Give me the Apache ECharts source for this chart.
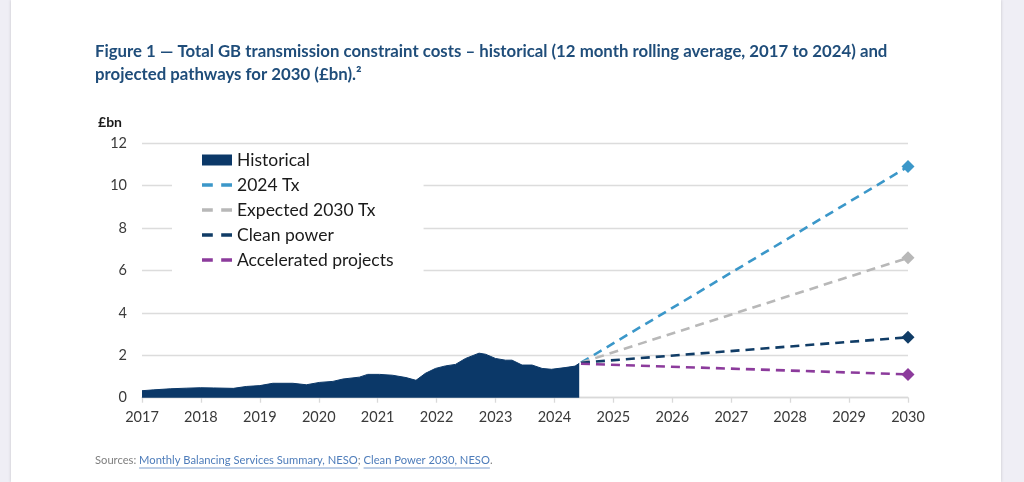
<!DOCTYPE html>
<html>
<head>
<meta charset="utf-8">
<script src="https://cdn.jsdelivr.net/npm/echarts@6/dist/echarts.min.js"></script>
<style>
  html, body { margin: 0; padding: 0; width: 1024px; height: 482px; background: #efeef5; overflow: hidden; }
  #sheet { position: absolute; left: 11px; top: 0; width: 990px; height: 482px; background: #fff;
           box-shadow: 0 0 3px rgba(0,0,0,0.18); }
  #chart { position: absolute; left: 0; top: 0; width: 1024px; height: 482px; }
</style>
</head>
<body>
<div id="sheet"></div>
<div id="chart"></div>
<script>
// ---- Data ----
const titleLines = [
  "Figure 1 \u2014 Total GB transmission constraint costs \u2013 historical (12 month rolling average, 2017 to 2024) and",
  "projected pathways for 2030 (\u00a3bn).\u00b2"
];
const yUnit = "\u00a3bn";
const xTicks = [2017, 2018, 2019, 2020, 2021, 2022, 2023, 2024, 2025, 2026, 2027, 2028, 2029, 2030];

const histYears = [2017.0, 2017.2, 2017.48, 2017.76, 2017.99, 2018.21, 2018.55, 2018.77, 2019.0, 2019.22,
  2019.56, 2019.79, 2020.01, 2020.24, 2020.41, 2020.69, 2020.83, 2021.03, 2021.25, 2021.48,
  2021.65, 2021.81, 2021.98, 2022.15, 2022.32, 2022.49, 2022.72, 2022.83, 2023.0, 2023.17,
  2023.28, 2023.45, 2023.62, 2023.79, 2023.95, 2024.18, 2024.35, 2024.42];
const histValues = [0.33, 0.37, 0.42, 0.45, 0.47, 0.46, 0.44, 0.53, 0.57, 0.68,
  0.68, 0.61, 0.72, 0.77, 0.88, 0.97, 1.1, 1.1, 1.06, 0.95,
  0.82, 1.15, 1.38, 1.5, 1.57, 1.85, 2.1, 2.05, 1.85, 1.77,
  1.77, 1.54, 1.54, 1.38, 1.34, 1.42, 1.49, 1.62];

const projYears = [2024.45, 2030];
const tx2024 = [1.65, 10.9];
const expected2030 = [1.65, 6.6];
const cleanPower = [1.65, 2.85];
const accelerated = [1.6, 1.1];

const seriesNames = ["Historical", "2024 Tx", "Expected 2030 Tx", "Clean power", "Accelerated projects"];
const seriesColors = ["#0b3868", "#3b97c9", "#b8b8b8", "#103c66", "#8c3b9c"];

const sourcesLabel = "Sources: ";
const sourceLinks = ["Monthly Balancing Services Summary, NESO", "Clean Power 2030, NESO"];

// ---- Build ----
const pair = (xs, ys) => xs.map((x, i) => [x, ys[i]]);
const FONT = "Lato, 'Open Sans', sans-serif";

function projSeries(name, color, values) {
  const n = values.length;
  return {
    name: name, type: 'line', data: pair(projYears, values),
    lineStyle: { color: color, width: 2.6, type: [9, 6] },
    itemStyle: { color: color },
    symbol: (v, p) => p.dataIndex === n - 1 ? 'diamond' : 'none',
    symbolSize: 13, showSymbol: true, z: 3, silent: true, animation: false
  };
}

const dashIcon = 'path://M0,0h9v3h-9z M16,0h9v3h-9z';

// measure sources text for underlines
const mctx = document.createElement('canvas').getContext('2d');
const srcFont = "11.2px " + FONT;
mctx.font = srcFont;
const srcX = 95, srcY = 462;
let cx = srcX + mctx.measureText(sourcesLabel).width;
const underlines = [];
const sepText = "; ";
sourceLinks.forEach((t, i) => {
  const w = mctx.measureText(t).width;
  underlines.push({ type: 'line', shape: { x1: cx, y1: srcY + 6, x2: cx + w, y2: srcY + 6 },
    style: { stroke: '#5b86c0', lineWidth: 0.8 }, silent: true });
  cx += w + mctx.measureText(i === 0 ? sepText : ".").width;
});

const chart = echarts.init(document.getElementById('chart'), null, { renderer: 'canvas' });
chart.setOption({
  backgroundColor: 'transparent',
  animation: false,
  textStyle: { fontFamily: FONT },
  title: {
    text: titleLines.join("\n"),
    left: 95, top: 40.5, padding: 0,
    textStyle: { fontFamily: FONT, fontSize: 16.8, fontWeight: 'bold', color: '#1f4d7a', lineHeight: 23 }
  },
  grid: { left: 142, right: 116, top: 143.3, bottom: 84.3, containLabel: false },
  legend: {
    orient: 'vertical', left: 172, top: 148,
    padding: [3, 30, 7, 30],
    backgroundColor: '#ffffff',
    itemWidth: 30, itemHeight: 11, itemGap: 7,
    textStyle: { fontFamily: FONT, fontSize: 17.5, color: '#1a1a1a', lineHeight: 18 },
    data: [
      { name: seriesNames[0], icon: 'rect', itemStyle: { color: seriesColors[0] } },
      { name: seriesNames[1], icon: dashIcon, itemStyle: { color: seriesColors[1] } },
      { name: seriesNames[2], icon: dashIcon, itemStyle: { color: seriesColors[2] } },
      { name: seriesNames[3], icon: dashIcon, itemStyle: { color: seriesColors[3] } },
      { name: seriesNames[4], icon: dashIcon, itemStyle: { color: seriesColors[4] } }
    ],
    selectedMode: false
  },
  xAxis: {
    type: 'value', min: 2017, max: 2030, interval: 1,
    axisLine: { show: true, lineStyle: { color: '#d9d9d9', width: 1.3 } },
    axisTick: { show: true, length: 5, lineStyle: { color: '#d9d9d9', width: 1.3 } },
    splitLine: { show: false },
    axisLabel: { formatter: v => String(v), color: '#3a3a3a', fontSize: 14.5, margin: 12, fontFamily: FONT }
  },
  yAxis: {
    type: 'value', min: 0, max: 12, interval: 2,
    name: yUnit, nameLocation: 'end', nameGap: 21,
    nameTextStyle: { align: 'right', verticalAlign: 'middle', padding: [0, 20, 0, 0], fontWeight: 'bold',
      fontSize: 14, color: '#1a1a1a', fontFamily: FONT },
    axisLine: { show: false }, axisTick: { show: false },
    splitLine: { show: true, lineStyle: { color: '#dcdcdc', width: 1.3 } },
    axisLabel: { color: '#3a3a3a', fontSize: 14.5, margin: 15, fontFamily: FONT }
  },
  series: [
    {
      name: seriesNames[0], type: 'line', data: pair(histYears, histValues),
      symbol: 'none', lineStyle: { color: seriesColors[0], width: 1 },
      itemStyle: { color: seriesColors[0] },
      areaStyle: { color: seriesColors[0], opacity: 1 }, z: 2, silent: true
    },
    projSeries(seriesNames[1], seriesColors[1], tx2024),
    projSeries(seriesNames[2], seriesColors[2], expected2030),
    projSeries(seriesNames[3], seriesColors[3], cleanPower),
    projSeries(seriesNames[4], seriesColors[4], accelerated)
  ],
  graphic: [
    {
      type: 'text', left: srcX, top: srcY - 7,
      style: {
        text: '{a|' + sourcesLabel + '}{b|' + sourceLinks[0] + '}{a|' + sepText + '}{b|' + sourceLinks[1] + '}{a|.}',
        font: srcFont,
        rich: {
          a: { fill: '#7f7f7f', font: srcFont },
          b: { fill: '#4d7cba', font: srcFont }
        }
      }
    }
  ].concat(underlines)
});
</script>
</body>
</html>
